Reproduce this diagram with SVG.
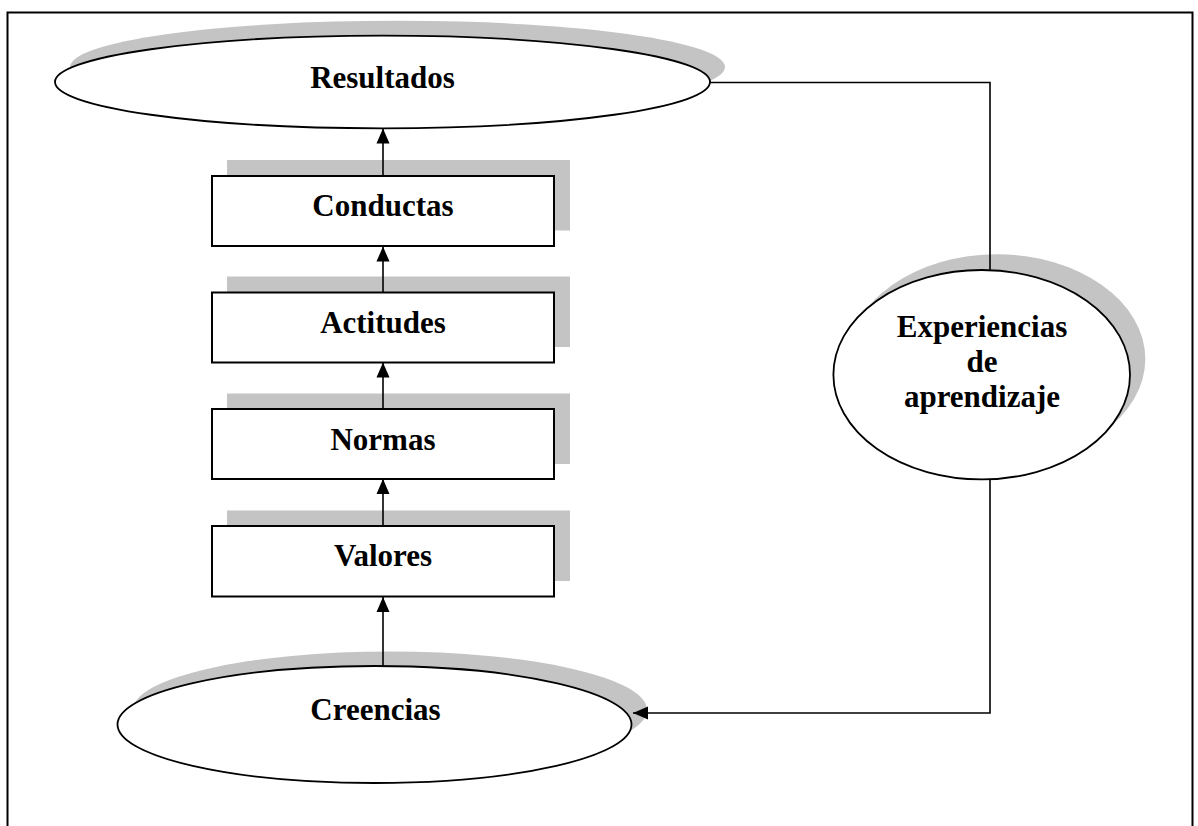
<svg xmlns="http://www.w3.org/2000/svg" width="1198" height="826" viewBox="0 0 1198 826">
<style>
.shadow{fill:#c4c4c4;stroke:none}
.box{fill:#fff;stroke:#000;stroke-width:2}
.ell{fill:#fff;stroke:#000;stroke-width:1.8}
.lbl{font-family:"Liberation Serif","Times New Roman",serif;font-weight:bold;font-size:31px;fill:#000;text-anchor:middle}
.conn{fill:none;stroke:#000;stroke-width:1.6}
.frame{fill:none;stroke:#000;stroke-width:2}
</style>
<defs>
<marker id="arr" markerUnits="userSpaceOnUse" markerWidth="16" markerHeight="16" viewBox="0 0 16 16" refX="15" refY="8" orient="auto">
<path d="M0,1.5 L15,8 L0,14.5 Z" fill="#000"/>
</marker>
</defs>
<rect width="1198" height="826" fill="#fff"/>
<path class="frame" d="M7.5,830 V12.5 H1192.5 V830"/>

<g id="resultados">
<ellipse class="shadow" cx="397.5" cy="67" rx="327.5" ry="46.3"/>
<ellipse class="ell" cx="382.5" cy="82" rx="327.5" ry="46.3"/>
<text class="lbl" x="382.5" y="88">Resultados</text>
</g>

<g id="conductas">
<rect class="shadow" x="227" y="160" width="343" height="70.5"/>
<rect class="box" x="212" y="176" width="342" height="70"/>
<text class="lbl" x="383" y="216">Conductas</text>
</g>

<g id="actitudes">
<rect class="shadow" x="227" y="276.5" width="343" height="70.5"/>
<rect class="box" x="212" y="292.5" width="342" height="70"/>
<text class="lbl" x="383" y="333">Actitudes</text>
</g>

<g id="normas">
<rect class="shadow" x="227" y="393.5" width="343" height="70.5"/>
<rect class="box" x="212" y="409" width="342" height="70"/>
<text class="lbl" x="383" y="450">Normas</text>
</g>

<g id="valores">
<rect class="shadow" x="227" y="510.5" width="343" height="70.5"/>
<rect class="box" x="212" y="526" width="342" height="70.5"/>
<text class="lbl" x="383" y="566">Valores</text>
</g>

<g id="creencias">
<ellipse class="shadow" cx="390" cy="710" rx="257" ry="58.5"/>
<ellipse class="ell" cx="374.5" cy="724.5" rx="257" ry="58.5"/>
<text class="lbl" x="375.5" y="720">Creencias</text>
</g>

<g id="experiencias">
<ellipse class="shadow" cx="997" cy="359" rx="148.3" ry="104.7"/>
<ellipse class="ell" cx="981.7" cy="374.7" rx="148.3" ry="104.7"/>
<text class="lbl" x="982" y="337">Experiencias</text>
<text class="lbl" x="982" y="372">de</text>
<text class="lbl" x="982" y="407">aprendizaje</text>
</g>

<g id="connectors">
<line class="conn" x1="383" y1="176" x2="383" y2="128.5" marker-end="url(#arr)"/>
<line class="conn" x1="383" y1="292.5" x2="383" y2="246.5" marker-end="url(#arr)"/>
<line class="conn" x1="383" y1="409" x2="383" y2="362.5" marker-end="url(#arr)"/>
<line class="conn" x1="383" y1="526" x2="383" y2="479" marker-end="url(#arr)"/>
<line class="conn" x1="383" y1="666" x2="383" y2="597" marker-end="url(#arr)"/>
<path class="conn" d="M710,82.5 H990 V270"/>
<path class="conn" d="M990,479 V713 H633" marker-end="url(#arr)"/>
</g>
</svg>
